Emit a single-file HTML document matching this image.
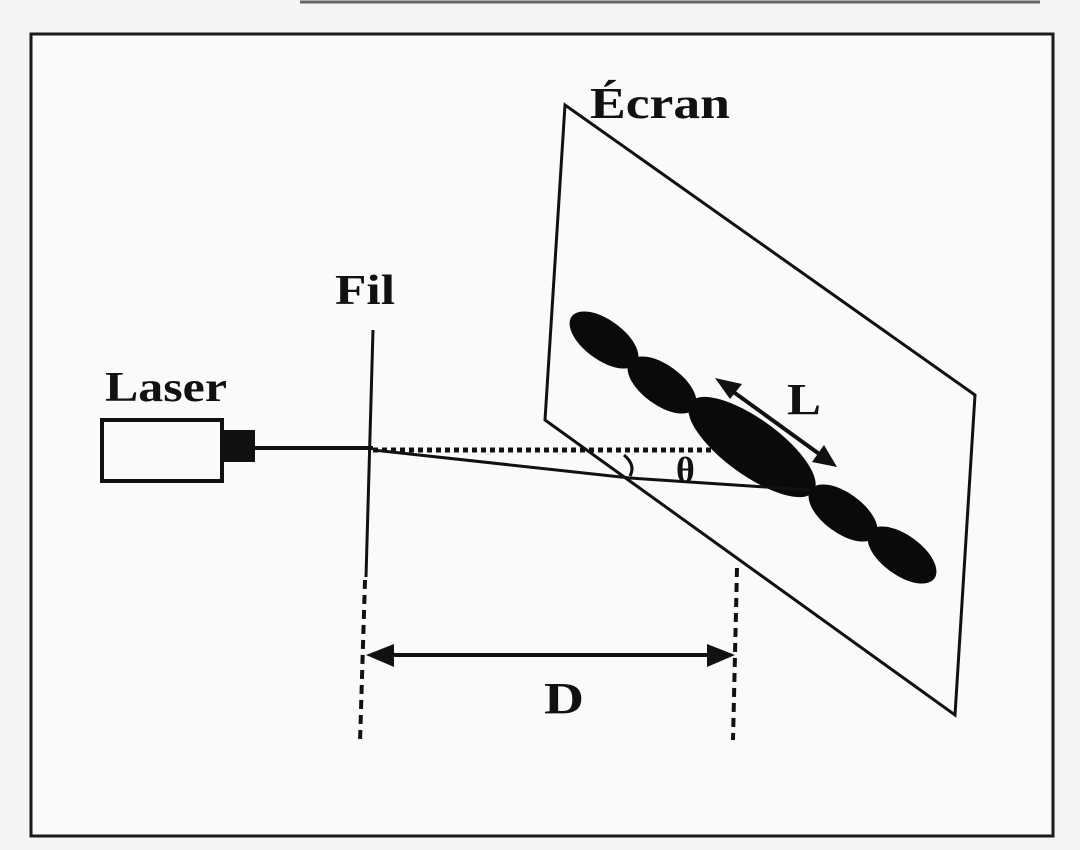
<!DOCTYPE html>
<html><head><meta charset="utf-8"><style>
html,body{margin:0;padding:0;background:#f4f4f2;}
svg{display:block;}
text{font-family:"Liberation Serif",serif;font-weight:bold;fill:#111;}
</style></head><body>
<svg width="1080" height="850" viewBox="0 0 1080 850">
<rect width="1080" height="850" fill="#f4f4f2"/>
<line x1="300" y1="2" x2="1040" y2="2" stroke="#666" stroke-width="3"/>
<rect x="31" y="34" width="1022" height="802" fill="#fafafa" stroke="#1a1a1a" stroke-width="3"/>
<!-- screen -->
<polygon points="565,105 975,395 955,715 545,420" fill="none" stroke="#111" stroke-width="3"/>
<text x="590" y="118" font-size="44" textLength="140" lengthAdjust="spacingAndGlyphs">Écran</text>
<!-- ellipses -->
<g fill="#0a0a0a">
<ellipse cx="604" cy="340" rx="40" ry="20" transform="rotate(36 604 340)"/>
<ellipse cx="662" cy="385" rx="40" ry="20" transform="rotate(36 662 385)"/>
<ellipse cx="752" cy="447" rx="76" ry="28" transform="rotate(36 752 447)"/>
<ellipse cx="843" cy="513" rx="40" ry="20" transform="rotate(36 843 513)"/>
<ellipse cx="902" cy="555" rx="40" ry="20" transform="rotate(36 902 555)"/>
</g>
<!-- L arrow -->
<line x1="728" y1="388" x2="822" y2="456" stroke="#111" stroke-width="4"/>
<polygon points="715,378 742,384 730,399" fill="#111"/>
<polygon points="837,467 812,462 824,445" fill="#111"/>
<text x="787" y="414" font-size="44" textLength="34" lengthAdjust="spacingAndGlyphs">L</text>
<!-- laser -->
<rect x="102" y="420" width="120" height="61" fill="#fafafa" stroke="#111" stroke-width="4"/>
<rect x="222" y="430" width="33" height="32" fill="#111"/>
<text x="105" y="401" font-size="42" textLength="122" lengthAdjust="spacingAndGlyphs">Laser</text>
<line x1="255" y1="448" x2="373" y2="448" stroke="#111" stroke-width="4"/>
<line x1="373" y1="450" x2="712" y2="450" stroke="#111" stroke-width="5" stroke-dasharray="5,4"/>
<path d="M373,450 L630,478 L810,490" fill="none" stroke="#111" stroke-width="3"/>
<path d="M624,455 Q636,465 630,476" fill="none" stroke="#111" stroke-width="3"/>
<text x="676" y="482" font-size="36">θ</text>
<!-- Fil -->
<text x="335" y="304" font-size="42" textLength="60" lengthAdjust="spacingAndGlyphs">Fil</text>
<line x1="373" y1="330" x2="366" y2="577" stroke="#111" stroke-width="3"/>
<line x1="365" y1="580" x2="360" y2="742" stroke="#111" stroke-width="4" stroke-dasharray="9,6"/>
<line x1="737" y1="568" x2="733" y2="740" stroke="#111" stroke-width="4" stroke-dasharray="9,6"/>
<!-- D arrow -->
<line x1="380" y1="655" x2="722" y2="655" stroke="#111" stroke-width="4"/>
<polygon points="366,655 394,644 394,667" fill="#111"/>
<polygon points="735,655 707,644 707,667" fill="#111"/>
<text x="544" y="713" font-size="44" textLength="40" lengthAdjust="spacingAndGlyphs">D</text>
</svg>
</body></html>
